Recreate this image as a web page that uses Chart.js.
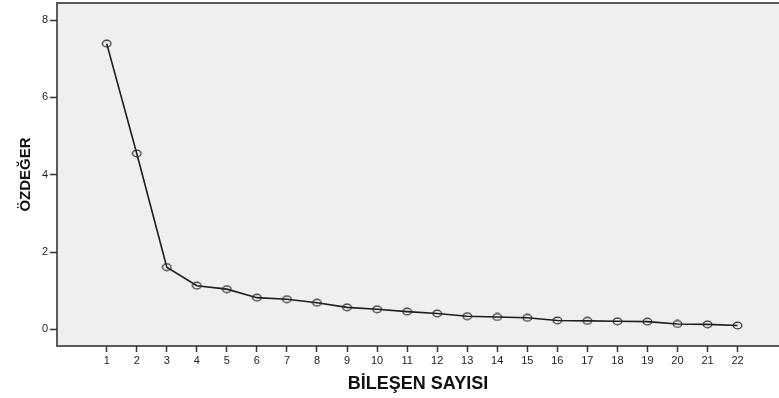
<!DOCTYPE html>
<html>
<head>
<meta charset="utf-8">
<script src="https://cdn.jsdelivr.net/npm/chart.js@4"></script>
<style>
    html, body { margin: 0; padding: 0; background: #fff; }
    #chart { display: block; }
</style>
</head>
<body>
<canvas id="chart" width="779" height="398"></canvas>
<script>
// Scree plot data
const components = [1, 2, 3, 4, 5, 6, 7, 8, 9, 10, 11, 12, 13, 14, 15, 16, 17, 18, 19, 20, 21, 22];
const eigenvalues = [7.39, 4.55, 1.61, 1.13, 1.04, 0.82, 0.78, 0.69, 0.57, 0.52, 0.46, 0.41,
    0.34, 0.32, 0.30, 0.23, 0.22, 0.21, 0.20, 0.14, 0.13, 0.10];
const yTicks = [0, 2, 4, 6, 8];
const xTitle = 'BİLEŞEN SAYISI';
const yTitle = 'ÖZDEĞER';

// small open ellipse marker like the SPSS one
function makeMarker() {
    const c = document.createElement('canvas');
    c.width = 11;
    c.height = 9;
    const g = c.getContext('2d');
    g.strokeStyle = '#2a2a2a';
    g.lineWidth = 1.2;
    g.beginPath();
    g.ellipse(5.5, 4.5, 4.3, 3.4, 0, 0, Math.PI * 2);
    g.stroke();
    return c;
}

// plot background + frame (left, top, bottom)
const framePlugin = {
    id: 'frame',
    beforeDraw(chart) {
        const { ctx, chartArea } = chart;
        const { left, top, right, bottom } = chartArea;
        ctx.save();
        ctx.fillStyle = '#efefef';
        ctx.fillRect(left, top, right - left, bottom - top);
        ctx.strokeStyle = '#5a5a5a';
        ctx.lineWidth = 2;
        ctx.beginPath();
        ctx.moveTo(right + 2, top);
        ctx.lineTo(left, top);
        ctx.lineTo(left, bottom);
        ctx.lineTo(right + 2, bottom);
        ctx.stroke();
        ctx.restore();
    }
};

const points = components.map((c, i) => ({ x: c, y: eigenvalues[i] }));
const font = '"Liberation Sans", Arial, sans-serif';

new Chart(document.getElementById('chart'), {
    type: 'line',
    data: {
        datasets: [{
            data: points,
            borderColor: '#1e1e1e',
            borderWidth: 1.6,
            tension: 0,
            pointStyle: makeMarker(),
            pointRadius: 4,
            pointBackgroundColor: 'transparent',
            fill: false
        }]
    },
    plugins: [framePlugin],
    options: {
        responsive: false,
        animation: false,
        devicePixelRatio: 1,
        layout: { autoPadding: false, padding: { top: 3, right: 0, bottom: 0, left: 0 } },
        plugins: {
            legend: { display: false },
            tooltip: { enabled: false }
        },
        scales: {
            x: {
                type: 'linear',
                min: -0.655,
                max: 23.38,
                afterBuildTicks(scale) {
                    scale.ticks = components.map(v => ({ value: v }));
                },
                afterFit(scale) {
                    scale.height = 52;
                    scale.paddingLeft = 0;
                    scale.paddingRight = 0;
                },
                border: { display: false },
                grid: {
                    drawOnChartArea: false,
                    drawTicks: true,
                    tickLength: 6,
                    tickWidth: 1.5,
                    color: '#333'
                },
                ticks: {
                    autoSkip: false,
                    maxRotation: 0,
                    padding: 2,
                    color: '#222',
                    font: { family: font, size: 11 }
                },
                title: {
                    display: true,
                    text: xTitle,
                    color: '#111',
                    font: { family: font, size: 18, weight: 'bold' },
                    padding: { top: 0, bottom: 3 }
                }
            },
            y: {
                type: 'linear',
                min: -0.43,
                max: 8.44,
                afterBuildTicks(scale) {
                    scale.ticks = yTicks.map(v => ({ value: v }));
                },
                afterFit(scale) {
                    scale.width = 57;
                    scale.paddingTop = 0;
                    scale.paddingBottom = 0;
                },
                border: { display: false },
                grid: {
                    drawOnChartArea: false,
                    drawTicks: true,
                    tickLength: 7,
                    tickWidth: 1.5,
                    color: '#333'
                },
                ticks: {
                    padding: 2,
                    color: '#222',
                    font: { family: font, size: 11 }
                },
                title: {
                    display: true,
                    text: yTitle,
                    color: '#111',
                    font: { family: font, size: 15, weight: 'bold' },
                    padding: { top: 17, bottom: 0 }
                }
            }
        }
    }
});
</script>
</body>
</html>
